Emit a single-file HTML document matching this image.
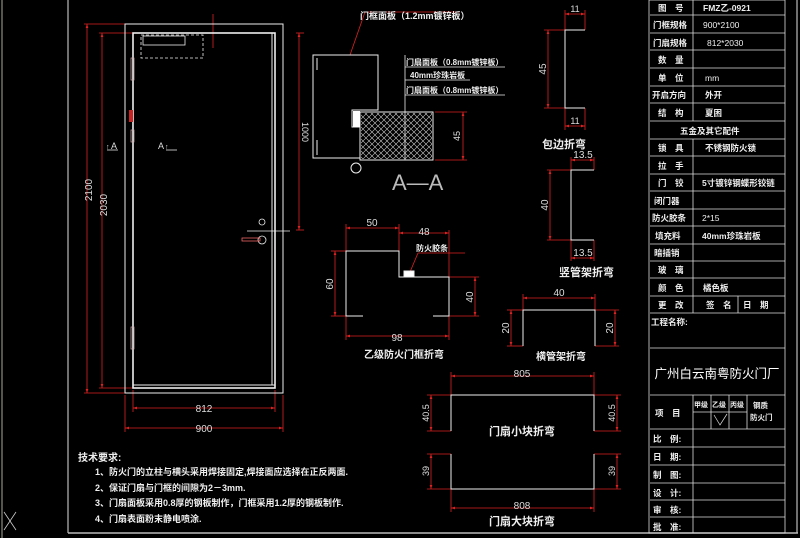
<!DOCTYPE html>
<html><head><meta charset="utf-8"><style>
html,body{margin:0;padding:0;background:#000;width:800px;height:538px;overflow:hidden}
svg text{font-family:"Liberation Sans","Noto Sans CJK SC",sans-serif}
.c{font-family:"Noto Sans CJK SC",sans-serif;font-weight:bold}
</style></head><body>
<svg width="800" height="538" viewBox="0 0 800 538" xmlns="http://www.w3.org/2000/svg">
<defs>
<marker id="a" viewBox="0 0 6 6" refX="6" refY="3" markerWidth="5" markerHeight="5" orient="auto-start-reverse"><path d="M0 1 L6 3 L0 5Z" fill="#d22"/></marker>
<pattern id="h" width="6" height="6" patternUnits="userSpaceOnUse"><path d="M0 6 L6 0 M0 0 L6 6" stroke="#ccc" stroke-width="0.6"/></pattern>
</defs>
<rect width="800" height="538" fill="#000"/>
<line x1="2" y1="0" x2="2" y2="538" stroke="#aa9" stroke-width="1"/>
<line x1="68" y1="0" x2="68" y2="533" stroke="#bbb" stroke-width="1.2"/>
<line x1="68" y1="533" x2="798" y2="533" stroke="#bbb" stroke-width="1.5"/>
<line x1="797" y1="0" x2="797" y2="533" stroke="#bbb" stroke-width="1.2"/>
<path d="M4 512 L16 530 M16 512 L4 530" stroke="#ccc" stroke-width="0.8" fill="none"/>

<g fill="none" stroke="#d22" stroke-width="0.8">
<line x1="84" y1="24" x2="125" y2="24"/><line x1="84" y1="393" x2="125" y2="393"/>
<line x1="99" y1="33" x2="133" y2="33"/><line x1="99" y1="388" x2="133" y2="388"/>
<line x1="133" y1="390" x2="133" y2="412"/><line x1="275" y1="390" x2="275" y2="412"/>
<line x1="125" y1="395" x2="125" y2="432"/><line x1="283" y1="395" x2="283" y2="432"/>
<line x1="213" y1="14" x2="213" y2="48"/>
<line x1="296" y1="33" x2="304" y2="33"/><line x1="296" y1="230" x2="304" y2="230"/>
<line x1="350" y1="55" x2="365" y2="12"/><line x1="365" y1="12" x2="460" y2="12"/>
<line x1="435" y1="112" x2="467" y2="112"/><line x1="435" y1="160" x2="467" y2="160"/>
<line x1="544" y1="30" x2="565" y2="30"/><line x1="544" y1="108" x2="565" y2="108"/>
<line x1="565" y1="10" x2="565" y2="30"/><line x1="585" y1="10" x2="585" y2="30"/>
<line x1="565" y1="108" x2="565" y2="130"/><line x1="585" y1="108" x2="585" y2="130"/>
<line x1="547" y1="170" x2="571" y2="170"/><line x1="547" y1="240" x2="571" y2="240"/>
<line x1="571" y1="157" x2="571" y2="170"/><line x1="594" y1="157" x2="594" y2="170"/>
<line x1="571" y1="240" x2="571" y2="261"/><line x1="594" y1="240" x2="594" y2="261"/>
<line x1="346" y1="224" x2="346" y2="251"/><line x1="399" y1="224" x2="399" y2="251"/>
<line x1="449" y1="230" x2="449" y2="277"/>
<line x1="331" y1="251" x2="346" y2="251"/><line x1="331" y1="316" x2="346" y2="316"/>
<line x1="449" y1="277" x2="479" y2="277"/><line x1="449" y1="316" x2="479" y2="316"/>
<line x1="346" y1="316" x2="346" y2="340"/><line x1="449" y1="316" x2="449" y2="340"/>
<line x1="410" y1="272" x2="418" y2="253"/><line x1="418" y1="253" x2="465" y2="253"/>
<line x1="523" y1="294" x2="523" y2="310"/><line x1="595" y1="294" x2="595" y2="310"/>
<line x1="507" y1="310" x2="523" y2="310"/><line x1="507" y1="346" x2="523" y2="346"/>
<line x1="595" y1="310" x2="619" y2="310"/><line x1="595" y1="346" x2="619" y2="346"/>
<line x1="451" y1="372" x2="451" y2="395"/><line x1="594" y1="372" x2="594" y2="395"/>
<line x1="427" y1="395" x2="451" y2="395"/><line x1="427" y1="431" x2="451" y2="431"/>
<line x1="594" y1="395" x2="621" y2="395"/><line x1="594" y1="431" x2="621" y2="431"/>
<line x1="427" y1="454" x2="451" y2="454"/><line x1="427" y1="489" x2="451" y2="489"/>
<line x1="594" y1="454" x2="621" y2="454"/><line x1="594" y1="489" x2="621" y2="489"/>
<line x1="451" y1="489" x2="451" y2="512"/><line x1="594" y1="489" x2="594" y2="512"/>
</g>
<g fill="none" stroke="#d22" stroke-width="0.8" marker-start="url(#a)" marker-end="url(#a)">
<line x1="87" y1="24" x2="87" y2="393"/>
<line x1="102" y1="33" x2="102" y2="388"/>
<line x1="133" y1="408" x2="275" y2="408"/>
<line x1="125" y1="428" x2="283" y2="428"/>
<line x1="299" y1="33" x2="299" y2="230"/>
<line x1="463" y1="112" x2="463" y2="160"/>
<line x1="548" y1="30" x2="548" y2="108"/>
<line x1="565" y1="14" x2="585" y2="14"/>
<line x1="565" y1="126" x2="585" y2="126"/>
<line x1="550" y1="170" x2="550" y2="240"/>
<line x1="571" y1="160" x2="594" y2="160"/>
<line x1="571" y1="258" x2="594" y2="258"/>
<line x1="346" y1="228" x2="399" y2="228"/>
<line x1="399" y1="233" x2="449" y2="233"/>
<line x1="335" y1="251" x2="335" y2="316"/>
<line x1="475" y1="277" x2="475" y2="316"/>
<line x1="346" y1="336" x2="449" y2="336"/>
<line x1="523" y1="298" x2="595" y2="298"/>
<line x1="511" y1="310" x2="511" y2="346"/>
<line x1="615" y1="310" x2="615" y2="346"/>
<line x1="451" y1="376" x2="594" y2="376"/>
<line x1="431" y1="395" x2="431" y2="431"/>
<line x1="617" y1="395" x2="617" y2="431"/>
<line x1="431" y1="454" x2="431" y2="489"/>
<line x1="617" y1="454" x2="617" y2="489"/>
<line x1="451" y1="508" x2="594" y2="508"/>
</g>

<g fill="none" stroke="#eee" stroke-width="1">
<rect x="125" y="24" width="158" height="369"/>
<rect x="133" y="33" width="142" height="355" stroke-width="1.6"/>
<line x1="133" y1="385" x2="275" y2="385"/><line x1="272" y1="33" x2="272" y2="385"/>
<rect x="141" y="35" width="62" height="23" stroke-dasharray="3,2" stroke-width="0.8"/>
<rect x="143" y="36" width="42" height="9" stroke-width="0.8"/>
<rect x="131" y="58" width="3" height="22" stroke="#caa" stroke-width="0.7"/>
<rect x="131" y="130" width="3" height="12" stroke="#caa" stroke-width="0.7"/>
<rect x="131" y="327" width="3" height="22" stroke="#caa" stroke-width="0.7"/>
<circle cx="262" cy="222" r="3" stroke-width="0.8"/>
<circle cx="262" cy="240" r="4" stroke-width="0.8"/>
<rect x="242" y="238" width="18" height="3" stroke="#e66" stroke-width="0.8"/>
<line x1="247" y1="231" x2="290" y2="231" stroke-width="0.8"/>
<path d="M107 150 H118 M166 150 H177" stroke-width="0.7"/>
<path d="M313 55 H378 V110 H352 V127 H360 V158 H313 Z"/>
<path d="M317 58 V70 M317 140 V155"/>
<rect x="360" y="112" width="73" height="48"/>
<line x1="405" y1="55" x2="405" y2="160" stroke-width="0.8"/>
<circle cx="356" cy="168" r="5"/>
<line x1="405" y1="67" x2="505" y2="67" stroke-width="0.7"/><line x1="405" y1="80" x2="470" y2="80" stroke-width="0.7"/><line x1="405" y1="95" x2="505" y2="95" stroke-width="0.7"/>
<path d="M585 30 H565 V108 H585"/>
<path d="M594 170 H571 V240 H594"/>
<path d="M363 316 H346 V251 H399 V277 H449 V316 H433"/>
<rect x="404" y="271" width="10" height="6" fill="#fff"/>
<path d="M523 346 V310 H595 V346"/>
<path d="M451 431 V395 H594 V431"/>
<path d="M451 454 V489 H594 V454"/>
</g>
<rect x="361" y="113" width="71" height="46" fill="url(#h)"/>
<rect x="353" y="111" width="7" height="16" fill="#fff"/>
<rect x="129" y="110" width="4" height="12" fill="#c22"/>

<g fill="#ddd" font-size="10">
<text x="92" y="190" transform="rotate(-90 92 190)" text-anchor="middle">2100</text>
<text x="107" y="205" transform="rotate(-90 107 205)" text-anchor="middle">2030</text>
<text x="204" y="412" text-anchor="middle">812</text>
<text x="204" y="432" text-anchor="middle">900</text>
<text x="302" y="132" transform="rotate(90 302 132)" text-anchor="middle" font-size="9">1000</text>
<text x="460" y="136" transform="rotate(-90 460 136)" text-anchor="middle" font-size="9">45</text>
<text x="575" y="12" text-anchor="middle" font-size="9">11</text>
<text x="575" y="124" text-anchor="middle" font-size="9">11</text>
<text x="546" y="69" transform="rotate(-90 546 69)" text-anchor="middle">45</text>
<text x="583" y="158" text-anchor="middle">13.5</text>
<text x="583" y="256" text-anchor="middle">13.5</text>
<text x="548" y="205" transform="rotate(-90 548 205)" text-anchor="middle">40</text>
<text x="372" y="226" text-anchor="middle">50</text>
<text x="424" y="235" text-anchor="middle">48</text>
<text x="333" y="284" transform="rotate(-90 333 284)" text-anchor="middle">60</text>
<text x="473" y="297" transform="rotate(-90 473 297)" text-anchor="middle">40</text>
<text x="397" y="341" text-anchor="middle">98</text>
<text x="559" y="296" text-anchor="middle">40</text>
<text x="509" y="328" transform="rotate(-90 509 328)" text-anchor="middle">20</text>
<text x="613" y="328" transform="rotate(-90 613 328)" text-anchor="middle">20</text>
<text x="522" y="377" text-anchor="middle">805</text>
<text x="522" y="509" text-anchor="middle">808</text>
<text x="429" y="413" transform="rotate(-90 429 413)" text-anchor="middle" font-size="9">40.5</text>
<text x="615" y="413" transform="rotate(-90 615 413)" text-anchor="middle" font-size="9">40.5</text>
<text x="429" y="471" transform="rotate(-90 429 471)" text-anchor="middle" font-size="9">39</text>
<text x="615" y="471" transform="rotate(-90 615 471)" text-anchor="middle" font-size="9">39</text>
<text x="392" y="190" font-size="22" fill="#bbb">A—A</text>
<text x="111" y="149" font-size="9">A</text><text x="158" y="149" font-size="9">A</text>
<text x="106" y="149" font-size="7">↑</text><text x="165" y="149" font-size="7">↑</text>
</g>
<g class="c" fill="#eee" font-size="9">
<text x="360" y="19">门框面板（1.2mm镀锌板）</text>
<text x="406" y="65" font-size="8">门扇面板（0.8mm镀锌板）</text>
<text x="410" y="78" font-size="8">40mm珍珠岩板</text>
<text x="406" y="93" font-size="8">门扇面板（0.8mm镀锌板）</text>
<text x="542" y="148" font-size="11">包边折弯</text>
<text x="559" y="276" font-size="11">竖管架折弯</text>
<text x="416" y="251" font-size="8">防火胶条</text>
<text x="364" y="358" font-size="10">乙级防火门框折弯</text>
<text x="536" y="360" font-size="10">横管架折弯</text>
<text x="522" y="435" font-size="11" text-anchor="middle">门扇小块折弯</text>
<text x="522" y="525" font-size="11" text-anchor="middle">门扇大块折弯</text>
<text x="78" y="461" font-size="10">技术要求:</text>
<text x="95" y="475" font-size="9">1、防火门的立柱与横头采用焊接固定,焊接面应选择在正反两面.</text>
<text x="95" y="491" font-size="9">2、保证门扇与门框的间隙为2－3mm.</text>
<text x="95" y="506" font-size="9">3、门扇面板采用0.8厚的钢板制作，门框采用1.2厚的钢板制作.</text>
<text x="95" y="522" font-size="9">4、门扇表面粉末静电喷涂.</text>
</g>

<g fill="none" stroke="#ddd" stroke-width="0.8">
<rect x="649" y="0" width="136" height="533"/>
<line x1="693" y1="0" x2="693" y2="121"/><line x1="693" y1="139" x2="693" y2="313"/>
<line x1="738" y1="296" x2="738" y2="313"/>
<line x1="693" y1="429" x2="693" y2="533"/>
<line x1="693" y1="395" x2="693" y2="429"/><line x1="711" y1="395" x2="711" y2="429"/><line x1="729" y1="395" x2="729" y2="429"/><line x1="747" y1="395" x2="747" y2="429"/>
<line x1="693" y1="412" x2="747" y2="412"/>
<path d="M650 15H785M650 33H785M650 50H785M650 68H785M650 86H785M650 103H785M650 121H785M650 139H785M650 156H785M650 174H785M650 191H785M650 209H785M650 226H785M650 244H785M650 261H785M650 278H785M650 296H785M650 313H785M650 348H785M650 395H785M650 429H785M650 447H785M650 465H785M650 483H785M650 500H785M650 517H785"/>
<path d="M714 415 L720 425 L727 414" stroke-width="0.7"/>
</g>
<g class="c" fill="#eee" font-size="8.5">
<text x="658" y="11">图　号</text><text x="703" y="11">FMZ乙-0921</text>
<text x="653" y="28">门框规格</text><text x="703" y="28" font-family="Liberation Sans" font-weight="normal">900*2100</text>
<text x="653" y="46">门扇规格</text><text x="707" y="46" font-family="Liberation Sans" font-weight="normal">812*2030</text>
<text x="658" y="63">数　量</text>
<text x="658" y="81">单　位</text><text x="705" y="81" font-family="Liberation Sans" font-weight="normal">mm</text>
<text x="652" y="98">开启方向</text><text x="705" y="98">外开</text>
<text x="658" y="116">结　构</text><text x="705" y="116">夏困</text>
<text x="680" y="134">五金及其它配件</text>
<text x="658" y="151">锁　具</text><text x="705" y="151">不锈钢防火锁</text>
<text x="658" y="169">拉　手</text>
<text x="658" y="186">门　铰</text><text x="702" y="186">5寸镀锌钢蝶形铰链</text>
<text x="654" y="204">闭门器</text>
<text x="652" y="221">防火胶条</text><text x="702" y="221" font-family="Liberation Sans" font-weight="normal">2*15</text>
<text x="655" y="239">填充料</text><text x="702" y="239">40mm珍珠岩板</text>
<text x="654" y="256">暗插销</text>
<text x="658" y="273">玻　璃</text>
<text x="658" y="291">颜　色</text><text x="703" y="291">橘色板</text>
<text x="658" y="308">更　改</text><text x="706" y="308">签　名</text><text x="743" y="308">日　期</text>
<text x="651" y="325">工程名称:</text>
<text x="717" y="378" font-size="12.5" text-anchor="middle" fill="#fff" font-weight="normal">广州白云南粤防火门厂</text>
<text x="655" y="416">项　目</text>
<text x="694" y="407" font-size="7">甲级</text><text x="712" y="407" font-size="7">乙级</text><text x="730" y="407" font-size="7">丙级</text>
<text x="753" y="408" font-size="7.5">钢质</text><text x="750" y="420" font-size="7.5">防火门</text>
<text x="653" y="442">比　例:</text>
<text x="653" y="460">日　期:</text>
<text x="653" y="478">制　图:</text>
<text x="653" y="496">设　计:</text>
<text x="653" y="513">审　核:</text>
<text x="653" y="530">批　准:</text>
</g>
</svg>
</body></html>
